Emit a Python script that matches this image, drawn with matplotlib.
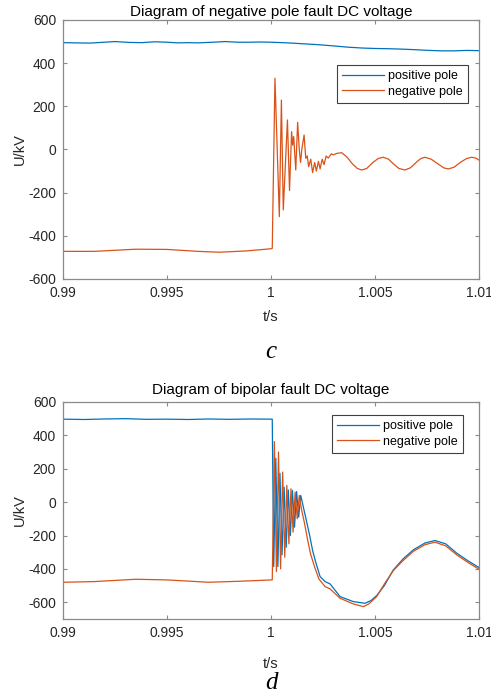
import matplotlib
matplotlib.use("Agg")
import matplotlib.pyplot as plt

plt.rcParams['font.family'] = ['Liberation Sans', 'DejaVu Sans']
plt.rcParams['axes.unicode_minus'] = False

# ---------------- data: panel c (negative pole fault) ----------------
t_pos_c = [0.9900, 0.9906, 0.9913, 0.9920, 0.9925, 0.9932, 0.9938, 0.9944,
           0.9950, 0.9955, 0.9960, 0.9965, 0.9972, 0.9978, 0.9984, 0.9990,
           0.9995, 1.0000, 1.0008, 1.0015, 1.0022, 1.0030, 1.0037, 1.0044,
           1.0050, 1.0056, 1.0063, 1.0070, 1.0076, 1.0082, 1.0088, 1.0094,
           1.0100]
v_pos_c = [495, 494, 493, 497, 500, 496, 495, 499,
           497, 494, 495, 494, 497, 500, 497, 497,
           498, 497, 494, 490, 486, 480, 474, 470,
           468, 467, 465, 462, 459, 457, 457, 459,
           458]

t_neg_c = [0.9900, 0.9915, 0.9935, 0.9950, 0.9965, 0.9975, 0.9988, 1.00000,
           1.00006, 1.00019, 1.00040, 1.00050, 1.00059, 1.00079, 1.00089,
           1.00099, 1.00104, 1.00109, 1.00119, 1.00128, 1.00136, 1.00142,
           1.00148, 1.00159, 1.00167, 1.00174, 1.00181, 1.00191, 1.00200,
           1.00210, 1.00218, 1.00228, 1.00236, 1.00246, 1.00255, 1.00265,
           1.00275, 1.00290, 1.00300, 1.00316, 1.00340, 1.00365, 1.00390,
           1.00415, 1.00436, 1.00460, 1.00490, 1.00515, 1.00540, 1.00565,
           1.00590, 1.00615, 1.00644, 1.00670, 1.00700, 1.00720, 1.00740,
           1.00770, 1.00800, 1.00830, 1.00853, 1.00880, 1.00910, 1.00940,
           1.00965, 1.00985, 1.01000]
v_neg_c = [-472, -472, -462, -463, -472, -476, -470, -460,
           -458, 330, -311, 229, -280, 137, -190,
           83, 20, 60, -95, 126, -2, -60,
           0, 67, -41, -30, -80, -45, -107,
           -60, -100, -55, -90, -45, -70, -30,
           -40, -20, -25, -18, -15, -35, -65,
           -88, -95, -88, -60, -42, -36, -45,
           -68, -88, -95, -85, -58, -42, -36,
           -45, -65, -85, -90, -82, -60, -42,
           -36, -40, -49]

# ---------------- data: panel d (bipolar fault) ----------------
t_pos_d = [0.9900, 0.9910, 0.9920, 0.9930, 0.9940, 0.9950, 0.9960, 0.9970,
           0.9980, 0.9990, 1.00000, 1.00006, 1.00013, 1.00023, 1.00033,
           1.00043, 1.00053, 1.00063, 1.00073, 1.00083, 1.00093, 1.00103,
           1.00113, 1.00123, 1.00133, 1.00143, 1.00155, 1.00170, 1.00187,
           1.00200, 1.00215, 1.00236, 1.00260, 1.00284, 1.00332, 1.00396,
           1.00452, 1.00480, 1.00508, 1.00545, 1.00588, 1.00635, 1.00684,
           1.00740, 1.00788, 1.00840, 1.00893, 1.00945, 1.01000]
v_pos_d = [497, 495, 498, 500, 496, 497, 495, 498,
           496, 498, 497, 497, -386, 263, -386,
           173, -316, 90, -270, 73, -200, 70,
           -150, 63, -90, 40, -27, -110, -207,
           -290, -360, -446, -476, -490, -566, -596,
           -606, -590, -560, -500, -406, -340, -286,
           -245, -230, -250, -306, -350, -392]

t_neg_d = [0.9900, 0.9915, 0.9935, 0.9950, 0.9970, 0.9985, 1.00000,
           1.00006, 1.00016, 1.00026, 1.00036, 1.00046, 1.00056, 1.00066,
           1.00076, 1.00086, 1.00096, 1.00106, 1.00116, 1.00126, 1.00136,
           1.00146, 1.00160, 1.00175, 1.00190, 1.00210, 1.00230, 1.00260,
           1.00284, 1.00332, 1.00396, 1.00444, 1.00470, 1.00508, 1.00545,
           1.00588, 1.00635, 1.00684, 1.00740, 1.00788, 1.00840, 1.00893,
           1.00945, 1.01000]
v_neg_d = [-480, -476, -462, -466, -480, -474, -466,
           -466, 363, -416, 300, -400, 180, -330,
           100, -250, 80, -180, 60, -100, 40,
           -40, -120, -220, -310, -390, -460, -506,
           -520, -576, -610, -626, -610, -566, -490,
           -410, -350, -295, -255, -240, -262, -316,
           -360, -402]

x_ticks = [0.99, 0.995, 1.0, 1.005, 1.01]
x_ticklabels = ['0.99', '0.995', '1', '1.005', '1.01']
y_ticks_c = [-600, -400, -200, 0, 200, 400, 600]
y_ticks_d = [-600, -400, -200, 0, 200, 400, 600]

BLUE = '#0072BD'
ORANGE = '#D95319'
SPINE = '#8a8a8a'
TXT = '#262626'

fig = plt.figure(figsize=(4.91, 6.94), dpi=100)
ax1 = fig.add_axes([0.1283, 0.598, 0.8473, 0.3732])
ax2 = fig.add_axes([0.1283, 0.1081, 0.8473, 0.3127])


def style(ax, yticks, ylim, title, legpos, tpad, xlpad):
    ax.set_xlim(0.99, 1.01)
    ax.set_ylim(*ylim)
    ax.set_xticks(x_ticks)
    ax.set_xticklabels(x_ticklabels)
    ax.set_yticks(yticks)
    ax.tick_params(direction='in', length=3, width=0.8, color=SPINE,
                   labelsize=10, labelcolor=TXT, top=True, right=True)
    ax.tick_params(axis='x', pad=5)
    ax.tick_params(axis='y', pad=5)
    for s in ax.spines.values():
        s.set_color(SPINE)
        s.set_linewidth(0.9)
    ax.set_title(title, fontsize=11, color='black', pad=tpad)
    ax.set_ylabel('U/kV', fontsize=10.5, color=TXT, labelpad=1)
    ax.set_xlabel('t/s', fontsize=10.5, color=TXT, labelpad=xlpad)
    leg = ax.legend(loc='upper right', bbox_to_anchor=legpos,
                    fontsize=9, handlelength=3.4, handletextpad=0.35,
                    borderaxespad=0, borderpad=0.4, labelspacing=0.3,
                    fancybox=False, framealpha=1)
    leg.get_frame().set_edgecolor('#404040')
    leg.get_frame().set_linewidth(0.8)


ax1.plot(t_pos_c, v_pos_c, color=BLUE, lw=0.9, label='positive pole')
ax1.plot(t_neg_c, v_neg_c, color=ORANGE, lw=0.9, label='negative pole')
style(ax1, y_ticks_c, (-600, 600), 'Diagram of negative pole fault DC voltage',
      (0.9736, 0.826), 3, 7)

ax2.plot(t_pos_d, v_pos_d, color=BLUE, lw=0.9, label='positive pole')
ax2.plot(t_neg_d, v_neg_d, color=ORANGE, lw=0.9, label='negative pole')
style(ax2, y_ticks_d, (-700, 600), 'Diagram of bipolar fault DC voltage',
      (0.9615, 0.940), 6, 12)

fig.text(0.5 * (63 + 479) / 491, 1 - 352 / 694, 'c', fontsize=18,
         family='Liberation Serif', style='italic', ha='center', va='center')
fig.text(0.5 * (63 + 479) / 491, 1 - 683 / 694, 'd', fontsize=18,
         family='Liberation Serif', style='italic', ha='center', va='center')

fig.savefig('out.png', dpi=100)
